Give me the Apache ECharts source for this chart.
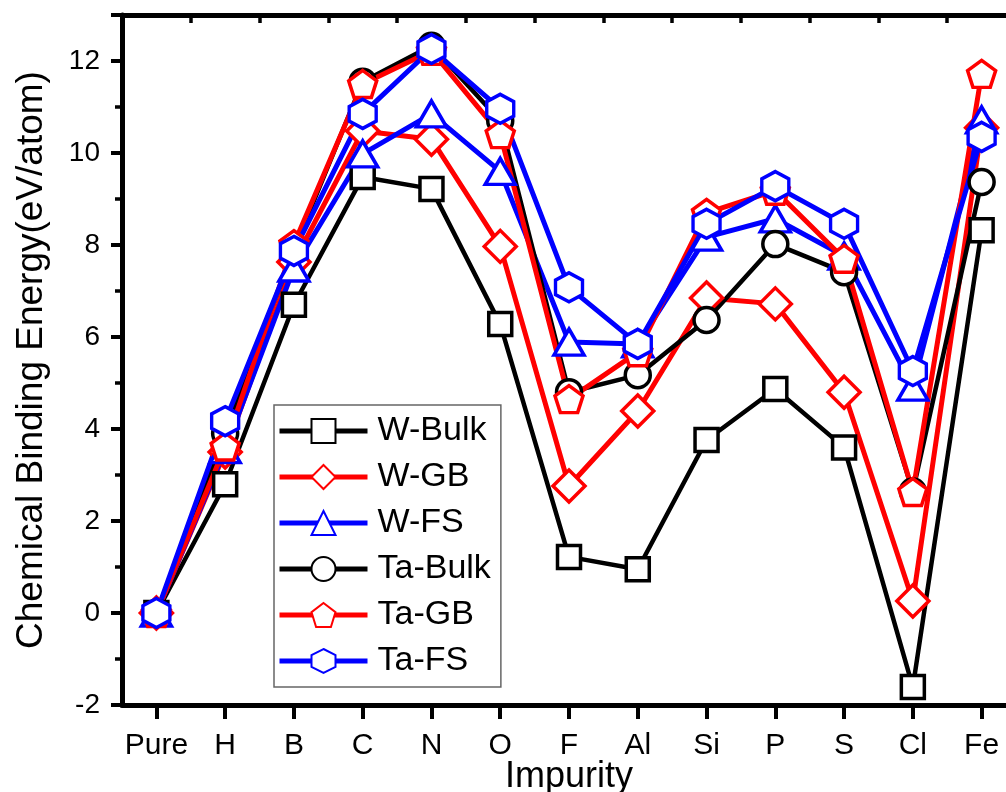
<!DOCTYPE html>
<html>
<head>
<meta charset="utf-8">
<script src="https://cdn.jsdelivr.net/npm/echarts@6/dist/echarts.min.js"></script>
<style>
html,body{margin:0;padding:0;background:#fff;}
#chart{width:1006px;height:792px;}
</style>
</head>
<body>
<div id="chart"></div>
<script>
var categories = ['Pure','H','B','C','N','O','F','Al','Si','P','S','Cl','Fe'];
var wBulk  = [0, 2.8, 6.7, 9.48, 9.22, 6.28, 1.22, 0.95, 3.76, 4.87, 3.6, -1.61, 8.32];
var wGB    = [0, 3.5, 7.63, 10.48, 10.3, 7.97, 2.76, 4.39, 6.85, 6.72, 4.8, 0.26, 10.55];
var wFS    = [0, 3.55, 7.5, 9.98, 10.85, 9.6, 5.89, 5.85, 8.17, 8.57, 7.76, 4.91, 10.72];
var taBulk = [0, 3.9, 7.9, 11.55, 12.33, 10.7, 4.8, 5.17, 6.37, 8.02, 7.41, 2.64, 9.37];
var taGB   = [0, 3.62, 8.02, 11.5, 12.22, 10.41, 4.65, 5.67, 8.7, 9.18, 7.7, 2.63, 11.72];
var taFS   = [0, 4.17, 7.87, 10.85, 12.26, 10.96, 7.08, 5.85, 8.46, 9.28, 8.46, 5.26, 10.35];
var seriesNames = ['W-Bulk','W-GB','W-FS','Ta-Bulk','Ta-GB','Ta-FS'];

var PENTAGON = 'path://M0,-1L0.951,-0.309L0.588,0.809L-0.588,0.809L-0.951,-0.309Z';
var HEXAGON = 'path://M0,-1L0.866,-0.5L0.866,0.5L0,1L-0.866,0.5L-0.866,-0.5Z';
var FONT = 'Arial, "Liberation Sans", sans-serif';

function mk(name, data, color, symbol, size, lw) {
  return {
    name: name, type: 'line', data: data,
    xAxisIndex: 0, yAxisIndex: 0,
    symbol: symbol, symbolSize: size, showAllSymbol: true,
    lineStyle: {color: color, width: lw},
    itemStyle: {color: '#fff', borderColor: color, borderWidth: 3.5},
    emphasis: {disabled: true},
    z: 3
  };
}

var chart = echarts.init(document.getElementById('chart'), null, {renderer: 'canvas'});
chart.setOption({
  animation: false,
  backgroundColor: '#fff',
  grid: {left: 122, top: 15, right: -10, bottom: 87, containLabel: false, outerBoundsMode: 'none'},
  legend: {
    orient: 'vertical', left: 274, top: 405,
    data: seriesNames,
    itemWidth: 88, itemHeight: 30, itemGap: 12,
    padding: [9, 10, 9, 3],
    borderColor: '#666', borderWidth: 1.5, backgroundColor: '#fff',
    lineStyle: {width: 5},
    textStyle: {fontFamily: FONT, fontSize: 34, color: '#000', padding: [0, 0, 0, 5]},
    selectedMode: false
  },
  xAxis: [{
    type: 'category', data: categories, position: 'bottom', boundaryGap: true,
    axisLine: {show: true, onZero: false, lineStyle: {color: '#000', width: 5}},
    axisTick: {show: true, alignWithLabel: true, interval: 0, length: 14, inside: false, lineStyle: {color: '#000', width: 4}},
    axisLabel: {interval: 0, margin: 26, fontFamily: FONT, fontSize: 30, color: '#000'},
    splitLine: {show: false},
    name: 'Impurity', nameLocation: 'middle', nameGap: 54, nameMoveOverlap: false,
    nameTextStyle: {fontFamily: FONT, fontSize: 36, color: '#000'}
  }, {
    type: 'category', data: categories, position: 'top', boundaryGap: true,
    axisLine: {show: true, onZero: false, lineStyle: {color: '#000', width: 5}},
    axisTick: {show: true, interval: 0, length: 8, inside: true, lineStyle: {color: '#000', width: 3.5}},
    axisLabel: {show: false}, splitLine: {show: false}
  }],
  yAxis: [{
    type: 'value', min: -2, max: 13, interval: 2, position: 'left',
    axisLine: {show: true, onZero: false, lineStyle: {color: '#000', width: 5}},
    axisTick: {show: true, length: 11, lineStyle: {color: '#000', width: 4}},
    axisLabel: {margin: 22, fontFamily: FONT, fontSize: 28, color: '#000',
      formatter: function (v) { return v > 12.5 ? '' : String(v); }},
    splitLine: {show: false},
    name: 'Chemical Binding Energy(eV/atom)', nameLocation: 'middle', nameGap: 72, nameRotate: 90,
    nameMoveOverlap: false,
    nameTextStyle: {fontFamily: FONT, fontSize: 37, color: '#000'}
  }, {
    type: 'value', min: -2, max: 13, interval: 1, position: 'left', offset: 0,
    axisLine: {show: false, onZero: false},
    axisTick: {show: true, length: 7, lineStyle: {color: '#000', width: 3.5}},
    axisLabel: {show: false}, splitLine: {show: false}
  }, {
    type: 'value', min: -2, max: 13, interval: 2, position: 'right',
    axisLine: {show: true, onZero: false, lineStyle: {color: '#000', width: 5}},
    axisTick: {show: true, inside: true, length: 8, lineStyle: {color: '#000', width: 3.5}},
    axisLabel: {show: false}, splitLine: {show: false}
  }],
  series: [
    mk('W-Bulk', wBulk, '#000000', 'rect', 23, 4.5),
    mk('W-GB', wGB, '#ff0000', 'diamond', [32, 32], 5),
    mk('W-FS', wFS, '#0000ff', 'triangle', [30, 26], 5),
    mk('Ta-Bulk', taBulk, '#000000', 'circle', 25, 4.5),
    mk('Ta-GB', taGB, '#ff0000', PENTAGON, [28, 27], 5),
    mk('Ta-FS', taFS, '#0000ff', HEXAGON, [27, 29], 5)
  ]
});
</script>
</body>
</html>
